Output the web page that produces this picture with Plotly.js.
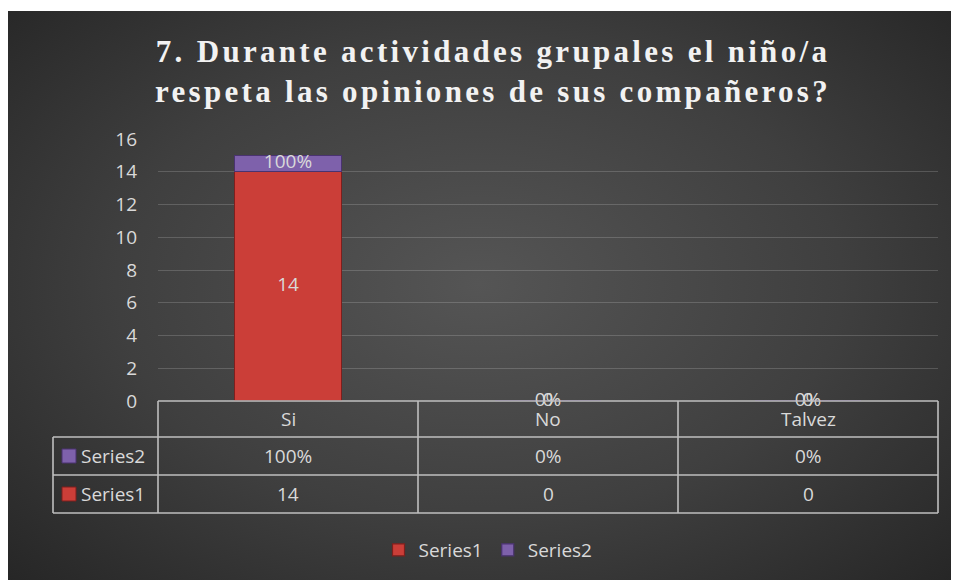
<!DOCTYPE html>
<html>
<head>
<meta charset="utf-8">
<script src="https://cdn.plot.ly/plotly-3.0.1.min.js"></script>
<style>
  html, body { margin: 0; padding: 0; background: #ffffff; }
  #wrap { position: relative; width: 954px; height: 580px; }
  #bg { position: absolute; left: 8px; top: 11px; width: 943px; height: 569px;
        background: radial-gradient(ellipse 70% 75% at 50% 48%, #555555 0%, #3f3f3f 55%, #262626 100%); }
  #chart { position: absolute; left: 0; top: 0; width: 954px; height: 580px; }
  #chart .gtitle { letter-spacing: 3.3px; }
</style>
</head>
<body>
<div id="wrap"><div id="bg"></div><div id="chart"></div></div>
<script>
// ---- data ----
const categories = ['Si', 'No', 'Talvez'];
const seriesNames = ['Series1', 'Series2'];
const series1 = [14, 0, 0];
const series2 = [1, 0, 0];               // shown as 100%, 0%, 0%
const series1Labels = ['14', '0', '0'];
const series2Labels = ['100%', '0%', '0%'];
const titleText = '7. Durante actividades grupales el niño/a<br>respeta las opiniones de sus compañeros?';

// ---- styling ----
const txtColor = '#d9d9d9';
const lineColor = '#bfbfbf';
const red = '#cb3e38', redLine = '#7e1f1d';
const purple = '#7e61ab', purpleLine = '#4a3370';
const font = '"Open Sans", "Noto Sans", sans-serif';
const fs = 19;

// layout in px (page coords)
const L = 158, R = 938, T = 139, B = 401;
const W = R - L, H = B - T;
const px2x = p => (p - L) / W;
const py2y = p => (B - p) / H;
const tableLeft = 53;
const rowLines = [437, 475, 513];

const traces = [
  { type: 'bar', name: seriesNames[0], x: categories, y: series1,
    marker: { color: red, line: { color: redLine, width: 1.2 } }, hoverinfo: 'skip' },
  { type: 'bar', name: seriesNames[1], x: categories, y: series2,
    marker: { color: purple, line: { color: purpleLine, width: 1.2 } }, hoverinfo: 'skip' },
  { type: 'scatter', mode: 'text', showlegend: false, hoverinfo: 'skip', cliponaxis: false,
    x: categories, y: series1.map(v => v / 2), text: series1Labels,
    textfont: { family: font, size: fs, color: txtColor } },
  { type: 'scatter', mode: 'text', showlegend: false, hoverinfo: 'skip', cliponaxis: false,
    x: categories, y: series2.map((v, i) => series1[i] + v / 2), text: series2Labels,
    textfont: { family: font, size: fs, color: txtColor } }
];

const shapes = [];
const annotations = [];
const ln = (x0, y0, x1, y1) => shapes.push({ type: 'line', xref: 'paper', yref: 'paper',
  x0: px2x(x0), y0: py2y(y0), x1: px2x(x1), y1: py2y(y1), line: { color: lineColor, width: 1.6 } });

// table horizontal lines
ln(L, B, R, B);
rowLines.forEach(y => ln(tableLeft, y, R, y));
// vertical lines
ln(tableLeft, rowLines[0], tableLeft, rowLines[2]);
for (let i = 0; i <= categories.length; i++) {
  const xp = L + W * i / categories.length;
  ln(xp, B, xp, rowLines[2]);
}
const ann = (o) => annotations.push(Object.assign({ showarrow: false, yanchor: 'middle', xanchor: 'center',
  font: { family: font, size: fs, color: txtColor } }, o));
// header row: category names
categories.forEach(c => ann({ xref: 'x', yref: 'paper', x: c, y: py2y((B + rowLines[0]) / 2), text: c }));
// rows: Series2 then Series1
const rows = [
  { name: seriesNames[1], labels: series2Labels, color: purple, line: purpleLine, top: rowLines[0], bot: rowLines[1] },
  { name: seriesNames[0], labels: series1Labels, color: red, line: redLine, top: rowLines[1], bot: rowLines[2] }
];
rows.forEach(r => {
  const cy = (r.top + r.bot) / 2;
  shapes.push({ type: 'rect', xref: 'paper', yref: 'paper',
    x0: px2x(62), x1: px2x(76), y0: py2y(cy - 7), y1: py2y(cy + 7),
    fillcolor: r.color, line: { color: r.line, width: 1 } });
  ann({ xref: 'paper', yref: 'paper', x: px2x(79), y: py2y(cy), xanchor: 'left', text: r.name });
  categories.forEach((c, i) => ann({ xref: 'x', yref: 'paper', x: c, y: py2y(cy), text: r.labels[i] }));
});

const layout = {
  width: 954, height: 580,
  paper_bgcolor: 'rgba(0,0,0,0)', plot_bgcolor: 'rgba(0,0,0,0)',
  margin: { l: L, r: 954 - R, t: T, b: 580 - B, pad: 0, autoexpand: false },
  title: { text: titleText, x: 493 / 954, xref: 'container', xanchor: 'center',
    y: 1 - 62 / 580, yref: 'container', yanchor: 'middle',
    font: { family: '"Liberation Serif", "Times New Roman", serif', size: 31, color: '#f2f2f2', weight: 'bold' } },
  barmode: 'stack', bargap: 0.59,
  showlegend: true,
  legend: { orientation: 'h', xref: 'container', yref: 'container', x: 488 / 954, xanchor: 'center',
    y: 1 - 550 / 580, yanchor: 'middle', font: { family: font, size: fs, color: txtColor },
    bgcolor: 'rgba(0,0,0,0)', itemwidth: 30, traceorder: 'normal' },
  xaxis: { type: 'category', range: [-0.5, categories.length - 0.5], showticklabels: false,
    showgrid: false, zeroline: false, showline: false, fixedrange: true },
  yaxis: { range: [0, 16], dtick: 2, tick0: 0, showgrid: true, gridcolor: 'rgba(255,255,255,0.17)', gridwidth: 1,
    zeroline: false, showline: false, ticks: '', ticklabelstandoff: 20,
    tickfont: { family: font, size: fs, color: txtColor }, fixedrange: true },
  shapes: shapes, annotations: annotations,
  hovermode: false
};

Plotly.newPlot('chart', traces, layout, { displayModeBar: false, staticPlot: true });
</script>
</body>
</html>
